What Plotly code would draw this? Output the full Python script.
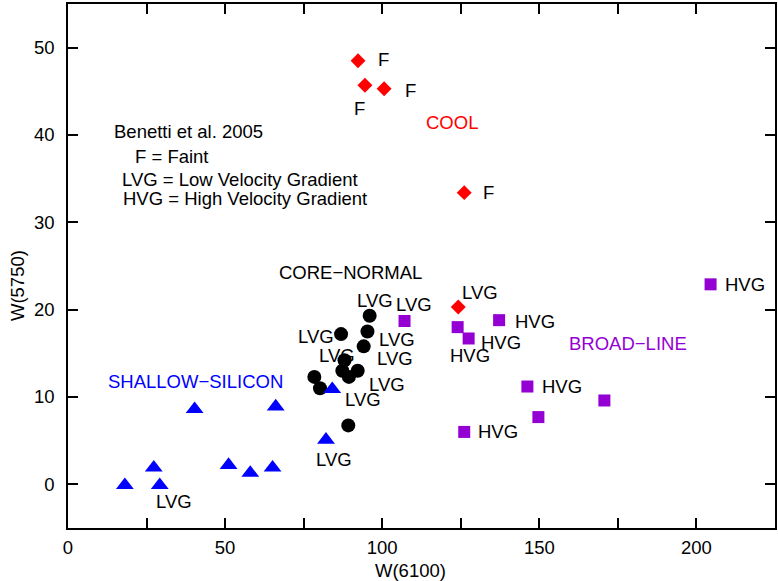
import plotly.graph_objects as go

# ---- data ----
cool_x = [92.3, 94.5, 100.6, 126.1, 124.2]
cool_y = [48.5, 45.7, 45.3, 33.4, 20.3]

core_x = [96.0, 95.3, 86.9, 94.1, 88.0, 87.3, 89.4, 92.2, 78.4, 80.2, 89.2]
core_y = [19.3, 17.5, 17.2, 15.8, 14.2, 13.0, 12.3, 13.0, 12.3, 11.0, 6.75]

broad_x = [107.1, 124.0, 127.5, 137.2, 146.2, 149.7, 126.1, 170.7, 204.5]
broad_y = [18.7, 18.0, 16.7, 18.8, 11.2, 7.7, 6.0, 9.6, 22.9]

ss_x = [40.3, 66.1, 84.1, 82.1, 27.3, 18.1, 29.2, 51.1, 58.0, 65.1]
ss_y = [8.6, 8.9, 10.9, 5.1, 1.9, -0.1, -0.1, 2.2, 1.3, 1.9]

# point labels: text, x, y
label_text = ["F", "F", "F", "F", "LVG",
              "LVG", "LVG", "LVG", "LVG", "LVG", "LVG", "LVG", "LVG", "LVG", "LVG",
              "HVG", "HVG", "HVG", "HVG", "HVG", "HVG"]
label_x = [100.5, 92.9, 109.0, 133.8, 131.1,
           97.6, 110.2, 78.8, 104.7, 85.7, 104.2, 101.5, 93.8, 84.8, 33.6,
           215.4, 148.6, 137.8, 128.0, 157.3, 136.9]
label_y = [48.7, 43.0, 45.1, 33.4, 22.0,
           21.0, 20.6, 16.9, 16.6, 14.8, 14.4, 11.4, 9.7, 2.9, -2.0,
           22.9, 18.7, 16.2, 14.7, 11.2, 6.0]

group_text = ["COOL", "CORE\u2212NORMAL", "SHALLOW\u2212SILICON", "BROAD\u2212LINE"]
group_x = [122.1, 89.9, 40.6, 178.1]
group_y = [41.4, 24.2, 11.8, 16.1]
group_color = ["#FF0000", "#000000", "#0000FF", "#9400D3"]

legend_lines = ["Benetti et al. 2005", "F = Faint",
                "LVG = Low Velocity Gradient", "HVG = High Velocity Gradient"]
legend_x = [13.85, 20.6, 16.5, 17.0]
legend_y = [40.4, 37.5, 34.9, 32.7]

x_ticks = [0, 50, 100, 150, 200]
y_ticks = [0, 10, 20, 30, 40, 50]

FONT = "Liberation Sans, Arial, sans-serif"
FS = 18.5

fig = go.Figure()
fig.add_trace(go.Scatter(x=cool_x, y=cool_y, mode="markers",
                         marker=dict(symbol="diamond", size=11.5, color="#FF0000")))
fig.add_trace(go.Scatter(x=core_x, y=core_y, mode="markers",
                         marker=dict(symbol="circle", size=14, color="#000000")))
fig.add_trace(go.Scatter(x=broad_x, y=broad_y, mode="markers",
                         marker=dict(symbol="square", size=12, color="#9400D3")))
fig.add_trace(go.Scatter(x=ss_x, y=ss_y, mode="markers",
                         marker=dict(symbol="triangle-up", size=15.5, color="#0000FF")))

annotations = []
for t, x, y in zip(label_text, label_x, label_y):
    annotations.append(dict(x=x, y=y, xref="x", yref="y", text=t, showarrow=False,
                            font=dict(family=FONT, size=FS, color="#000000"),
                            xanchor="center", yanchor="middle"))
for t, x, y, c in zip(group_text, group_x, group_y, group_color):
    annotations.append(dict(x=x, y=y, xref="x", yref="y", text=t, showarrow=False,
                            font=dict(family=FONT, size=FS, color=c),
                            xanchor="center", yanchor="middle"))
for t, x, y in zip(legend_lines, legend_x, legend_y):
    annotations.append(dict(x=x, y=y, xref="x", yref="y", text=t, showarrow=False,
                            font=dict(family=FONT, size=FS, color="#000000"),
                            xanchor="left", yanchor="middle"))
annotations.append(dict(x=0.485, y=-0.082, xref="paper", yref="paper", text="W(6100)",
                        showarrow=False, font=dict(family=FONT, size=FS, color="#000000"),
                        xanchor="center", yanchor="middle"))
annotations.append(dict(x=-0.0705, y=0.462, xref="paper", yref="paper", text="W(5750)",
                        showarrow=False, textangle=-90,
                        font=dict(family=FONT, size=FS, color="#000000"),
                        xanchor="center", yanchor="middle"))

fig.update_layout(
    width=778, height=581,
    margin=dict(l=68, r=1, t=4, b=53),
    paper_bgcolor="white", plot_bgcolor="white",
    showlegend=False,
    font=dict(family=FONT, size=FS, color="#000000"),
    annotations=annotations,
)
fig.update_xaxes(range=[0, 225], tickvals=x_ticks, ticks="inside", ticklen=10, tickwidth=1.5,
                 tickcolor="black", showline=True, linecolor="black", linewidth=1.5,
                 mirror="allticks", showgrid=False, zeroline=False, ticklabelstandoff=2,
                 minor=dict(dtick=25, tick0=0, ticks="inside", ticklen=10, tickwidth=1.5,
                            tickcolor="black", showgrid=False))
fig.update_yaxes(range=[-5, 55], tickvals=y_ticks, ticks="inside", ticklen=10, tickwidth=1.5,
                 tickcolor="black", showline=True, linecolor="black", linewidth=1.5,
                 mirror="allticks", showgrid=False, zeroline=False, ticklabelstandoff=8)

fig.write_html("out.html")
